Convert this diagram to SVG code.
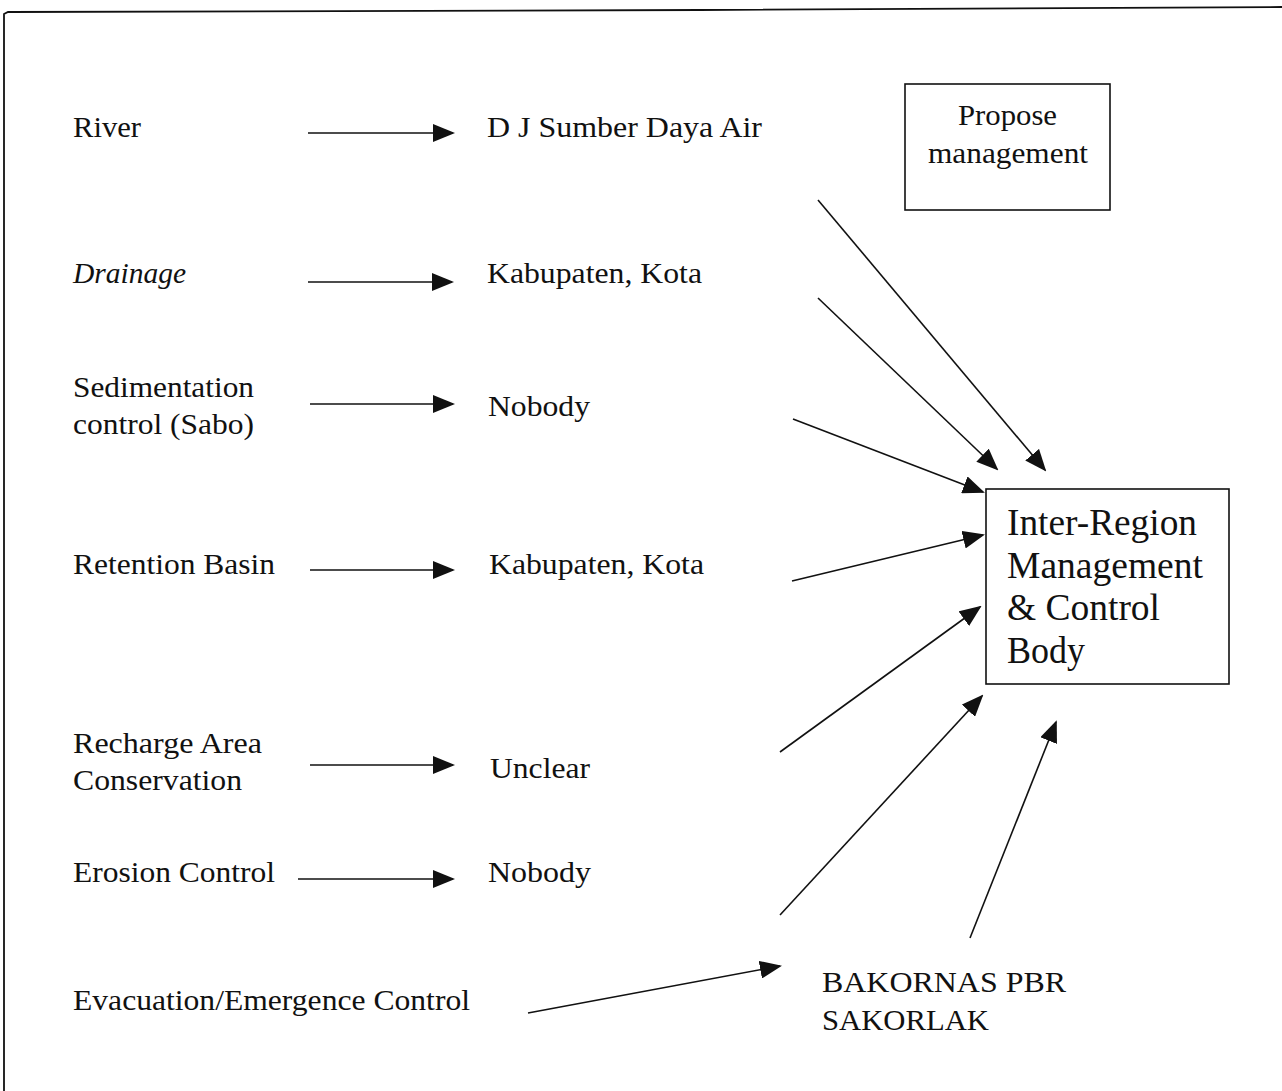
<svg xmlns="http://www.w3.org/2000/svg" width="1282" height="1091" viewBox="0 0 1282 1091">
  <style>
    .lbl { font-family: "Liberation Serif", "Times New Roman", serif; font-size: 30px; fill: #111; }
    .big { font-family: "Liberation Serif", "Times New Roman", serif; font-size: 37px; fill: #111; }
    .box { fill: none; stroke: #111; stroke-width: 1.6; }
    .conn line { stroke: #111; stroke-width: 1.6; marker-end: url(#head); }
  </style>
  <defs>
    <marker id="head" markerUnits="userSpaceOnUse" markerWidth="22" markerHeight="18" refX="20" refY="9" orient="auto">
      <path d="M0,0 L22,9 L0,18 Z" fill="#111"/>
    </marker>
  </defs>
  <rect width="1282" height="1091" fill="#fff"/>

  <!-- page frame: top and left edges -->
  <g id="frame" fill="none" stroke="#111" stroke-width="1.8">
    <polyline points="4,1091 4,14 8,12 700,10 1282,7"/>
  </g>

  <!-- source activities -->
  <g id="river"><text class="lbl" x="73" y="137" textLength="68" lengthAdjust="spacingAndGlyphs">River</text></g>
  <g id="drainage"><text class="lbl" x="73" y="283" font-style="italic" textLength="113" lengthAdjust="spacingAndGlyphs">Drainage</text></g>
  <g id="sedimentation">
    <text class="lbl" x="73" y="397" textLength="181" lengthAdjust="spacingAndGlyphs">Sedimentation</text>
    <text class="lbl" x="73" y="434" textLength="181" lengthAdjust="spacingAndGlyphs">control (Sabo)</text>
  </g>
  <g id="retention"><text class="lbl" x="73" y="574" textLength="202" lengthAdjust="spacingAndGlyphs">Retention Basin</text></g>
  <g id="recharge">
    <text class="lbl" x="73" y="753" textLength="189" lengthAdjust="spacingAndGlyphs">Recharge Area</text>
    <text class="lbl" x="73" y="790" textLength="169" lengthAdjust="spacingAndGlyphs">Conservation</text>
  </g>
  <g id="erosion"><text class="lbl" x="73" y="882" textLength="202" lengthAdjust="spacingAndGlyphs">Erosion Control</text></g>
  <g id="evacuation"><text class="lbl" x="73" y="1010" textLength="397" lengthAdjust="spacingAndGlyphs">Evacuation/Emergence Control</text></g>

  <!-- responsible bodies -->
  <g id="dj-sda"><text class="lbl" x="487" y="137" textLength="275" lengthAdjust="spacingAndGlyphs">D J Sumber Daya Air</text></g>
  <g id="kab-kota-1"><text class="lbl" x="487" y="283" textLength="215" lengthAdjust="spacingAndGlyphs">Kabupaten, Kota</text></g>
  <g id="nobody-1"><text class="lbl" x="488" y="416" textLength="102" lengthAdjust="spacingAndGlyphs">Nobody</text></g>
  <g id="kab-kota-2"><text class="lbl" x="489" y="574" textLength="215" lengthAdjust="spacingAndGlyphs">Kabupaten, Kota</text></g>
  <g id="unclear"><text class="lbl" x="490" y="778" textLength="100" lengthAdjust="spacingAndGlyphs">Unclear</text></g>
  <g id="nobody-2"><text class="lbl" x="488" y="882" textLength="103" lengthAdjust="spacingAndGlyphs">Nobody</text></g>
  <g id="bakornas">
    <text class="lbl" x="822" y="992" textLength="244" lengthAdjust="spacingAndGlyphs">BAKORNAS PBR</text>
    <text class="lbl" x="822" y="1030" textLength="167" lengthAdjust="spacingAndGlyphs">SAKORLAK</text>
  </g>

  <!-- proposal -->
  <g id="propose">
    <rect class="box" x="905" y="84" width="205" height="126"/>
    <text class="lbl" x="958" y="125" font-size="28" textLength="99" lengthAdjust="spacingAndGlyphs">Propose</text>
    <text class="lbl" x="928" y="163" font-size="28" textLength="160" lengthAdjust="spacingAndGlyphs">management</text>
  </g>

  <g id="inter-region">
    <rect class="box" x="986" y="489" width="243" height="195"/>
    <text class="big" x="1007" y="535" textLength="190" lengthAdjust="spacingAndGlyphs">Inter-Region</text>
    <text class="big" x="1007" y="578" textLength="196" lengthAdjust="spacingAndGlyphs">Management</text>
    <text class="big" x="1007" y="620" textLength="153" lengthAdjust="spacingAndGlyphs">&amp; Control</text>
    <text class="big" x="1007" y="663" textLength="78" lengthAdjust="spacingAndGlyphs">Body</text>
  </g>

  <!-- connectors -->
  <g id="connectors" class="conn">
    <line x1="308" y1="133" x2="453" y2="133"/>
    <line x1="308" y1="282" x2="452" y2="282"/>
    <line x1="310" y1="404" x2="453" y2="404"/>
    <line x1="310" y1="570" x2="453" y2="570"/>
    <line x1="310" y1="765" x2="453" y2="765"/>
    <line x1="298" y1="879" x2="453" y2="879"/>
    <line x1="528" y1="1013" x2="780" y2="966"/>
    <line x1="818" y1="200" x2="1045" y2="470"/>
    <line x1="818" y1="298" x2="997" y2="469"/>
    <line x1="793" y1="419" x2="983" y2="492"/>
    <line x1="792" y1="581" x2="983" y2="535"/>
    <line x1="780" y1="752" x2="980" y2="607"/>
    <line x1="780" y1="915" x2="982" y2="696"/>
    <line x1="970" y1="938" x2="1056" y2="722"/>
  </g>
</svg>
